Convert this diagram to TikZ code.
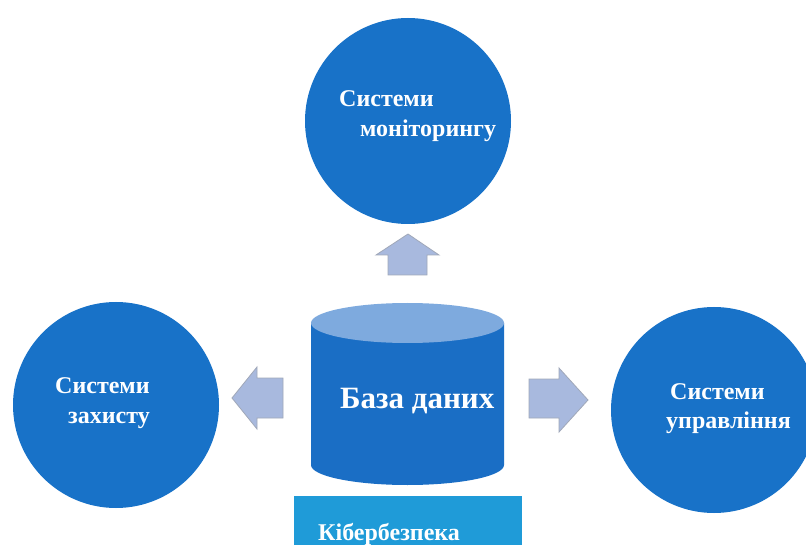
\documentclass[tikz,border=0pt]{standalone}
\usepackage{fontspec}
\setmainfont{Liberation Serif}
\begin{document}
\begin{tikzpicture}[x=1pt,y=-1pt,
  sysnode/.style={circle,fill=sysblue,minimum size=206pt,inner sep=0pt},
  label/.style={anchor=base west,inner sep=0pt,text=white,font=\bfseries\fontsize{24}{28}\selectfont},
  blockarrow/.style={fill=arrowfill,draw=arrowline,line width=0.8pt,line join=miter}]
\definecolor{sysblue}{RGB}{24,114,200}
\definecolor{dbbody}{RGB}{26,110,197}
\definecolor{dbtop}{RGB}{126,170,222}
\definecolor{cyberblue}{RGB}{31,155,216}
\definecolor{arrowfill}{RGB}{168,185,222}
\definecolor{arrowline}{RGB}{160,168,185}

\clip (0,0) rectangle (806,545);
\fill[white] (0,0) rectangle (806,545);

% the three surrounding systems
\node[sysnode] (mon) at (408,121) {};
\node[sysnode] (def) at (116,405) {};
\node[sysnode] (ctl) at (714,410) {};

\node[label] (mon1) at (339,107) {Системи};
\node[label] (mon2) at (360,137) {моніторингу};
\node[label] (def1) at (55,393) {Системи};
\node[label] (def2) at (68,423) {захисту};
\node[label] (ctl1) at (670,399) {Системи};
\node[label] (ctl2) at (666,428) {управління};

% database cylinder
\fill[dbbody] (311,323) -- (311,465) arc[start angle=180,end angle=360,x radius=96.5,y radius=-20]
  -- (504,323) -- cycle;
\fill[dbtop] (407.5,323) ellipse[x radius=96.5,y radius=20];
\node[label,font=\bfseries\fontsize{31}{35}\selectfont] (db) at (340,408) {База даних};

% cyber security box
\fill[cyberblue] (294,496) rectangle (522,560);
\node[label] (cyber) at (318,540) {Кібербезпека};

% block arrows from the database
\coordinate (up) at (408,234);
\draw[blockarrow] (up) -- (439,255) -- (427,255) -- (427,275) -- (388,275) -- (388,255) -- (376,255) -- cycle;
\coordinate (lt) at (232,398);
\draw[blockarrow] (lt) -- (257,367) -- (257,378) -- (283,378) -- (283,418) -- (257,418) -- (257,429) -- cycle;
\coordinate (rt) at (588,400);
\draw[blockarrow] (rt) -- (559,432) -- (559,418) -- (529,418) -- (529,379) -- (559,379) -- (559,368) -- cycle;
\end{tikzpicture}
\end{document}
